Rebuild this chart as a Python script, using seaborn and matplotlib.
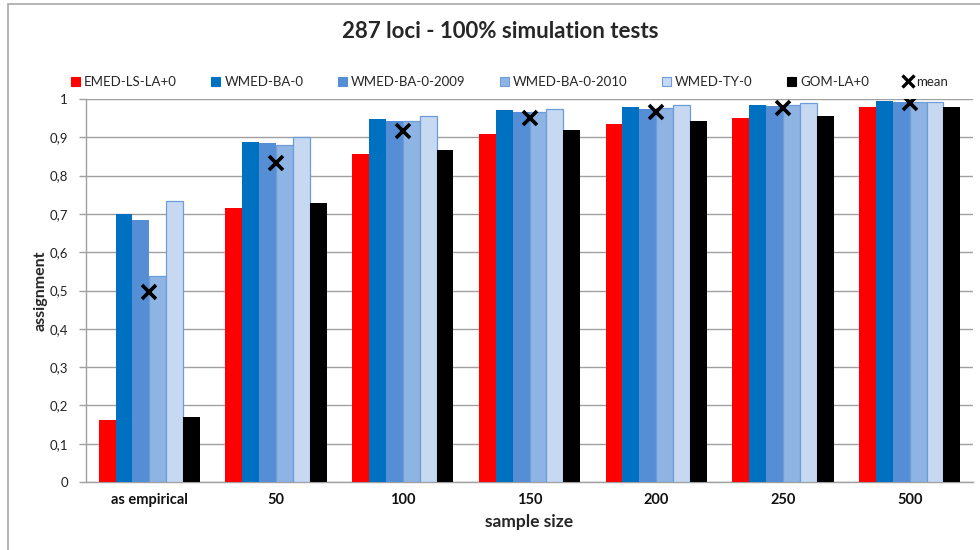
import numpy as np
import pandas as pd
import matplotlib
matplotlib.use("Agg")
import matplotlib.pyplot as plt
import seaborn as sns
from matplotlib.patches import Patch, Rectangle
from matplotlib.lines import Line2D

# ---- data ----
sizes = ["as empirical", "50", "100", "150", "200", "250", "500"]
series = ["EMED-LS-LA+0", "WMED-BA-0", "WMED-BA-0-2009", "WMED-BA-0-2010", "WMED-TY-0", "GOM-LA+0"]
emed_ls = [0.162, 0.715, 0.856, 0.909, 0.935, 0.950, 0.980]
wmed_ba = [0.701, 0.888, 0.948, 0.971, 0.980, 0.985, 0.995]
wmed_ba_2009 = [0.684, 0.886, 0.943, 0.966, 0.975, 0.982, 0.992]
wmed_ba_2010 = [0.538, 0.880, 0.943, 0.966, 0.977, 0.985, 0.992]
wmed_ty = [0.733, 0.902, 0.956, 0.973, 0.984, 0.989, 0.992]
gom_la = [0.170, 0.728, 0.867, 0.919, 0.943, 0.956, 0.980]
mean_vals = [0.497, 0.833, 0.917, 0.950, 0.967, 0.976, 0.990]
ytick_vals = [0, 0.1, 0.2, 0.3, 0.4, 0.5, 0.6, 0.7, 0.8, 0.9, 1.0]
ytick_labels = ["0", "0,1", "0,2", "0,3", "0,4", "0,5", "0,6", "0,7", "0,8", "0,9", "1"]

colors = ["#FF0000", "#0070C0", "#558ED5", "#8EB4E3", "#C6D9F1", "#000000"]
edge_light = "#6E9CD8"

values = [emed_ls, wmed_ba, wmed_ba_2009, wmed_ba_2010, wmed_ty, gom_la]
rows = []
for s, vals in zip(series, values):
    for sz, v in zip(sizes, vals):
        rows.append({"size": sz, "series": s, "value": v})
df = pd.DataFrame(rows)

sns.set_theme(style="white")
plt.rcParams["font.family"] = ["Lato", "DejaVu Sans"]

fig = plt.figure(figsize=(9.8, 5.5), dpi=100)
ax = fig.add_axes([86/980, 68/550, 887/980, 383/550])

sns.barplot(data=df, x="size", y="value", hue="series", order=sizes, hue_order=series,
            palette=colors, saturation=1, width=0.8, gap=0, legend=False, ax=ax,
            errorbar=None, linewidth=0)
for i, cont in enumerate(ax.containers):
    for bar in cont:
        bar.set_zorder(3)
        if i in (3, 4):
            bar.set_edgecolor(edge_light)
            bar.set_linewidth(0.9)

sns.pointplot(x=sizes, y=mean_vals, order=sizes, linestyle="none", marker="x", color="black",
              markersize=10, markeredgewidth=2.6, errorbar=None, ax=ax)
for coll in ax.collections:
    coll.set_zorder(5)
for ln in ax.lines:
    ln.set_zorder(5)

ax.set_ylim(0, 1)
ax.set_xlim(-0.5, len(sizes) - 0.5)
ax.set_yticks(ytick_vals)
ax.set_yticklabels(ytick_labels, fontsize=9.5, color="#222222")
ax.yaxis.grid(True, color="#A0A0A0", linewidth=1.0)
ax.set_axisbelow(True)

ax.set_xticks(np.arange(len(sizes)))
ax.set_xticklabels(sizes, fontsize=10.5, fontweight="bold", color="#111111")
ax.tick_params(axis="x", length=0, pad=8)
# group boundary ticks
ax.set_xticks(np.arange(len(sizes) + 1) - 0.5, minor=True)
ax.tick_params(axis="x", which="minor", length=5, color="#A0A0A0", width=1, direction="out")
ax.tick_params(axis="y", length=5, color="#A0A0A0", width=1, direction="out", left=True, pad=8)

for side in ["top", "right"]:
    ax.spines[side].set_visible(False)
for side in ["left", "bottom"]:
    ax.spines[side].set_color("#A0A0A0")
    ax.spines[side].set_linewidth(1.0)

ax.set_xlabel("sample size", fontsize=12.5, fontweight="bold", labelpad=5)
ax.set_ylabel("assignment", fontsize=11.5, fontweight="bold", labelpad=1)

fig.text(0.51, 1 - 32/550, "287 loci - 100% simulation tests", ha="center", va="center",
         fontsize=16, fontweight="bold")

handles = []
for i, (s, c) in enumerate(zip(series, colors)):
    ec = edge_light if i in (3, 4) else c
    handles.append(Patch(facecolor=c, edgecolor=ec, linewidth=0.8, label=s))
handles.append(Line2D([], [], marker="x", color="black", linestyle="none", markersize=8,
                      markeredgewidth=2.4, label="mean"))
fig.legend(handles=handles, loc="center", bbox_to_anchor=(0.52, 1 - 82/550), ncol=7,
           frameon=False, fontsize=9.5, handlelength=0.7, handleheight=0.7,
           handletextpad=0.3, columnspacing=2.6)

fig.add_artist(Rectangle((8/980, -0.05), 1.2, 1.05 - 4/550, transform=fig.transFigure,
                         fill=False, edgecolor="#A8A8A8", linewidth=1.2))

fig.savefig("out.png", dpi=100)
